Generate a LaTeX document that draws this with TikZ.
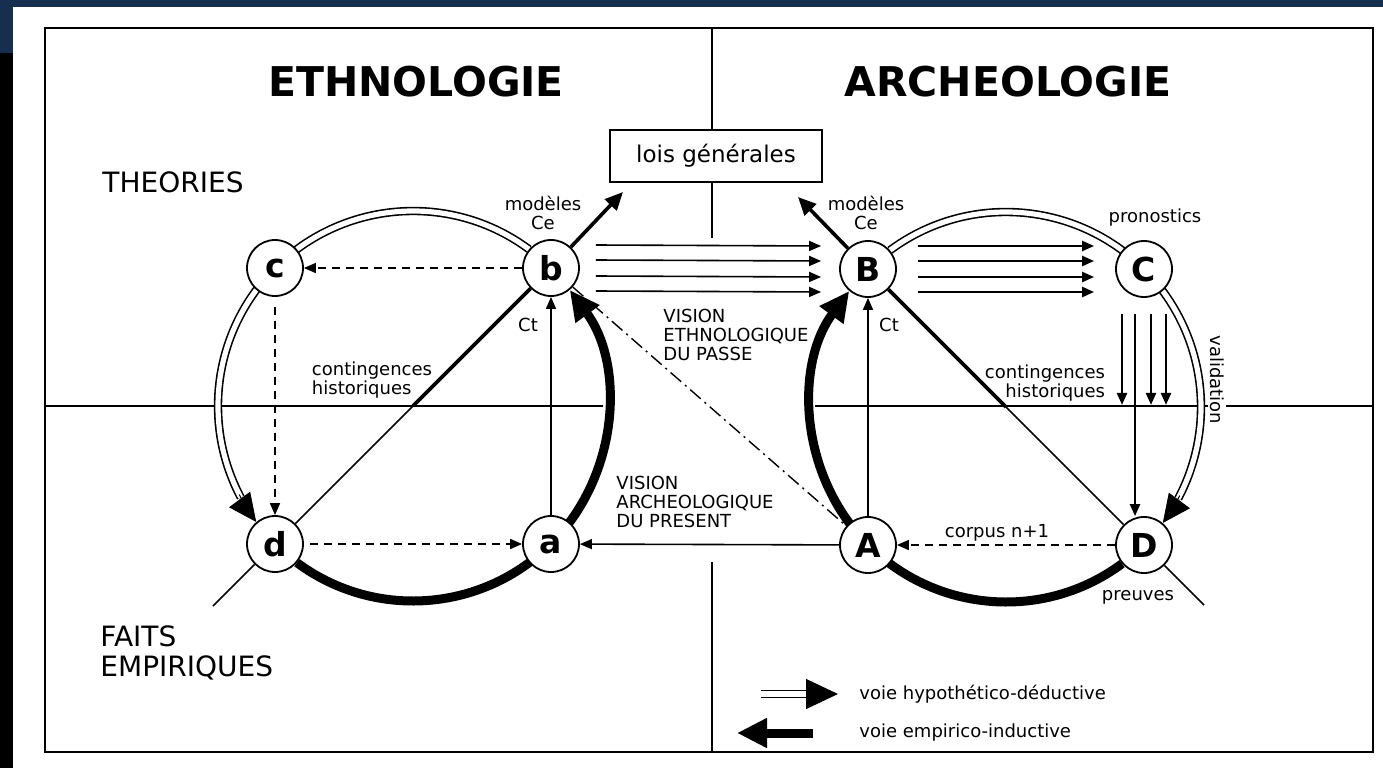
\documentclass[tikz,border=0pt]{standalone}
\usepackage{fontspec}
\setmainfont{DejaVu Sans}
\usetikzlibrary{arrows.meta}
\definecolor{scanNavy}{RGB}{22,47,78}

\tikzset{
  lettre/.style={circle,draw,fill=white,line width=0.9pt,minimum size=28pt,inner sep=0pt,font=\fontsize{16.5}{16.5}\selectfont\bfseries},
  voiehd/.style={double,line width=0.8pt,double distance=2.6pt},
  voieei/.style={line width=4.5pt},
  fleche/.style={-{Triangle[length=6pt,width=5pt]}},
  tirets/.style={dash pattern=on 4pt off 3pt},
  petit/.style={font=\fontsize{9}{9.5}\selectfont},
  grand/.style={font=\fontsize{14}{15}\selectfont},
  titre/.style={font=\fontsize{20.5}{20.5}\selectfont\bfseries},
}

\begin{document}
\begin{tikzpicture}[x=0.5pt,y=0.5pt,line width=0.8pt]

    \useasboundingbox (0,0) rectangle (1383,768);
    \fill[scanNavy] (0,0) rectangle (1383,768);
    \fill[white] (13,0) rectangle (1383,761);
    \fill[black] (0,0) rectangle (13,715);

    % cadre et quadrants
    \draw (45,16) rectangle (1373,740);
    \node[draw,line width=0.7pt,minimum width=106pt,minimum height=26pt,inner sep=0pt,
      font=\fontsize{11.5}{11.5}\selectfont] (lois) at (716,612) {lois générales};
    \coordinate (vhaut) at (712,740);
    \draw (vhaut) -- (vhaut |- lois.north);
    \draw (vhaut |- lois.south) -- (712,530);
    \draw (712,206) -- (712,16);
    \draw (45,362) -- (603,362);
    \draw (815,362) -- (1373,362);

    \node[titre] (ethno) at (416,686) {ETHNOLOGIE};
    \node[titre] (archeo) at (1008,686) {ARCHEOLOGIE};
    \node[grand,anchor=west] (theo) at (95,586) {THEORIES};
    \node[grand,anchor=west,align=left] (faits) at (93,115) {FAITS\\EMPIRIQUES};
    \node[petit,rotate=-90,fill=white,inner sep=1pt] (valid) at (1217,388) {validation};

    % cercles
    \coordinate (L) at (413,362);
    \coordinate (R) at (1006,361);

    \draw[voiehd] ([shift={(53.5:195)}]L) arc[start angle=53.5,end angle=208,radius=195];
    \draw[line width=0.5pt,-{Triangle[length=14pt,width=13pt]}]
      ([shift={(207:195)}]L) arc[start angle=207,end angle=216.5,radius=195];
    \draw[voieei,-{Triangle[length=15pt,width=14pt]}]
      ([shift={(233.5:195)}]L) arc[start angle=233.5,end angle=396.5,radius=195];

    \draw[voiehd] ([shift={(126.5:195)}]R) arc[start angle=126.5,end angle=-28,radius=195];
    \draw[line width=0.5pt,-{Triangle[length=14pt,width=13pt]}]
      ([shift={(-27:195)}]R) arc[start angle=-27,end angle=-36.5,radius=195];
    \draw[voieei,-{Triangle[length=15pt,width=14pt]}]
      ([shift={(-53.5:195)}]R) arc[start angle=-53.5,end angle=-216.5,radius=195];

    \node[lettre] (b) at (551,500) {b};
    \node[lettre] (c) at (275,500) {c};
    \node[lettre] (d) at (275,224) {d};
    \node[lettre] (a) at (551,224) {a};
    \node[lettre] (B) at (868,499) {B};
    \node[lettre] (C) at (1144,499) {C};
    \node[lettre] (A) at (868,223) {A};
    \node[lettre] (D) at (1144,223) {D};

    % ethnologie
    \coordinate (lgL) at (623,576);
    \coordinate (dbas) at (213,162);
    \draw[line width=1.8pt,-{Triangle[length=9pt,width=8pt]}] (b) -- (lgL);
    \draw[line width=1.8pt] (b) -- (L);
    \draw (L) -- (d);
    \draw (d) -- (dbas);
    \draw[fleche,tirets] (b) -- (c);
    \draw[fleche,tirets,shorten <=5pt] (c) -- (d);
    \draw[fleche,tirets,shorten <=3pt] (d) -- (a);
    \draw[fleche] (a) -- (b);

    % archeologie
    \coordinate (lgR) at (798,571);
    \coordinate (Dbas) at (1204,163);
    \draw[line width=1.8pt,-{Triangle[length=9pt,width=8pt]}] (B) -- (lgR);
    \draw[line width=1.8pt] (B) -- (R);
    \draw (R) -- (D);
    \draw (D) -- (Dbas);
    \draw[fleche] (A) -- (B);
    \draw[fleche,tirets] (D) -- (A);
    \foreach \o in {23,8,-8,-23} {
      \draw[fleche,line width=0.8pt] ([shift={(16,\o)}]b.east) -- ([shift={(-18,\o)}]B.west);
      \draw[fleche,line width=1.2pt] ([shift={(21,\o)}]B.east) -- ([shift={(-21,\o)}]C.west);
    }
    \foreach \o in {-22,7,22}
      \draw[fleche,line width=1.2pt] ([shift={(\o,-16)}]C.south) -- ([shift={(\o,-107)}]C.south);
    \draw[fleche,line width=1.2pt] ([shift={(-9,-16)}]C.south) -- ([shift={(-9,0)}]D.north);

    % entre les deux
    \draw[dash pattern=on 7pt off 2.5pt on 1pt off 2.5pt,line width=0.7pt] (b) -- (A);
    \draw[fleche] (A) -- (a);

    % textes
    \node[petit,align=center] (modL) at (543,555) {modèles\\Ce};
    \node[petit,align=center] (modR) at (866,555) {modèles\\Ce};
    \node[petit] (ctL) at (528,443) {Ct};
    \node[petit] (ctR) at (889,443) {Ct};
    \node[petit,align=left] (contL) at (372,388) {contingences\\historiques};
    \node[petit,align=right] (contR) at (1045,385) {contingences\\historiques};
    \node[petit,anchor=west,align=left] (vispa) at (656,433) {VISION\\ETHNOLOGIQUE\\DU PASSE};
    \node[petit,anchor=west,align=left] (vispr) at (609,266) {VISION\\ARCHEOLOGIQUE\\DU PRESENT};
    \node[petit] (prono) at (1155,550) {pronostics};
    \node[petit] (preuv) at (1138,171) {preuves};
    \node[petit] (corp) at (997,235) {corpus n+1};

    % legende
    \coordinate (hd0) at (761,74);
    \coordinate (hd1) at (806,74);
    \coordinate (hd2) at (838,74);
    \coordinate (ei0) at (813,35);
    \coordinate (ei1) at (737,35);
    \draw[line width=0.5pt,-{Triangle[length=16pt,width=15pt]}] (hd0) -- (hd2);
    \draw[voiehd] (hd0) -- (hd1);
    \draw[voieei,-{Triangle[length=15pt,width=14pt]}] (ei0) -- (ei1);
    \node[petit,anchor=west] (lhd) at (852,74) {voie hypothético-déductive};
    \node[petit,anchor=west] (lei) at (852,35) {voie empirico-inductive};

\end{tikzpicture}
\end{document}
